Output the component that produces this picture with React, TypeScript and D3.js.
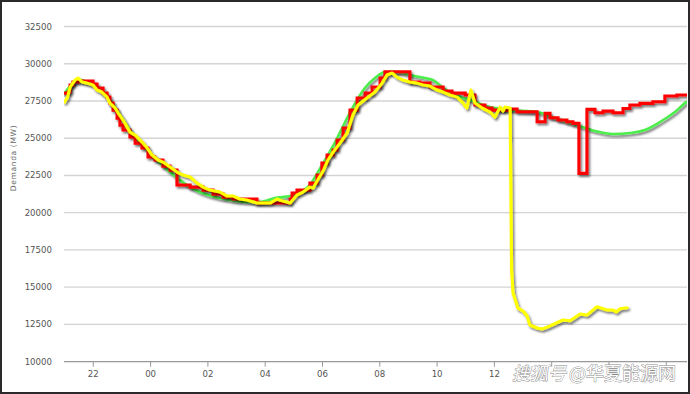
import React from "react";
import * as d3 from "d3";

// time = hours after 21:00
const yTicks = [10000, 12500, 15000, 17500, 20000, 22500, 25000, 27500, 30000, 32500];
const xTickHours = [1, 3, 5, 7, 9, 11, 13, 15, 17, 19, 21];
const xTickLabels = ["22", "00", "02", "04", "06", "08", "10", "12", "", "", ""];

const greenT = [0, 0.26, 0.54, 0.88, 1.23, 1.58, 1.93, 2.28, 2.63, 2.98, 3.33, 3.68, 4.03, 4.38, 4.72, 5.25, 5.77, 6.3, 6.82, 7.34, 7.87, 8.21, 8.56, 8.84, 9.09, 9.44, 9.79, 10.14, 10.48, 10.83, 11.18, 11.7, 12.05, 12.58, 12.86, 13.21, 13.63, 14.15, 14.85, 15.55, 16.49, 17.12, 17.88, 18.51, 19.14, 19.73, 20.25, 20.78, 21.3, 21.76, 22];
const greenV = [28030, 28640, 28905, 28700, 28370, 27560, 26560, 25550, 24670, 24010, 23330, 22730, 22190, 21720, 21390, 21050, 20850, 20720, 20720, 20990, 21120, 21390, 21860, 22730, 23540, 24740, 26090, 27360, 28370, 29040, 29440, 29440, 29240, 29040, 28905, 28370, 27900, 27560, 27090, 26890, 26760, 26350, 25880, 25480, 25280, 25350, 25550, 26090, 26760, 27500, 27650];

const redT = [0, 0.12, 0.19, 0.29, 0.47, 0.99, 1.13, 1.34, 1.48, 1.58, 1.69, 1.83, 1.93, 2.04, 2.28, 2.46, 2.7, 2.91, 3.15, 3.43, 3.68, 3.92, 4.38, 4.83, 5.18, 5.53, 5.88, 6.71, 7.87, 7.94, 8.11, 8.56, 8.81, 8.98, 9.16, 9.37, 9.51, 9.72, 9.96, 10.21, 10.49, 10.73, 11.01, 11.18, 12.05, 12.4, 12.75, 13.21, 13.52, 13.98, 14.32, 14.67, 14.92, 15.47, 15.79, 16.49, 16.77, 16.94, 17.22, 17.53, 17.74, 17.95, 18.23, 18.51, 18.79, 19.14, 19.49, 19.73, 20.08, 20.53, 20.95, 21.37, 22];
const redV = [28030, 28100, 28570, 28770, 28840, 28640, 28370, 28030, 27760, 27360, 26890, 26350, 25880, 25550, 25080, 24670, 24340, 23740, 23540, 23130, 22860, 21860, 21720, 21520, 21250, 21050, 20920, 20650, 20920, 21320, 21520, 21990, 22530, 23330, 23870, 24210, 24880, 25690, 26890, 27700, 28030, 28435, 29040, 29460, 28770, 28700, 28435, 28170, 28030, 27900, 27230, 27030, 26890, 26960, 26780, 26110, 26670, 26370, 26220, 26110, 26000, 22640, 26940, 26710, 26820, 26710, 27000, 27230, 27340, 27450, 27830, 27900, 27900];

const yellowT = [0, 0.1, 0.19, 0.36, 0.47, 0.61, 0.78, 0.99, 1.13, 1.3, 1.48, 1.58, 1.76, 1.87, 2.04, 2.28, 2.46, 2.7, 2.88, 3.05, 3.26, 3.43, 3.68, 3.92, 4.13, 4.38, 4.62, 4.83, 5.07, 5.42, 5.67, 5.88, 6.12, 6.36, 6.71, 6.92, 7.17, 7.41, 7.62, 7.87, 8.11, 8.32, 8.56, 8.67, 8.81, 9.02, 9.19, 9.37, 9.61, 9.86, 10.06, 10.24, 10.55, 10.83, 11.08, 11.25, 11.43, 11.6, 11.81, 12.05, 12.3, 12.51, 12.75, 13.0, 13.21, 13.45, 13.7, 13.91, 14.04, 14.18, 14.32, 14.57, 14.85, 15.02, 15.2, 15.3, 15.37, 15.55, 15.6, 15.65, 15.82, 16.0, 16.14, 16.24, 16.49, 16.66, 16.94, 17.39, 17.64, 17.99, 18.23, 18.58, 18.93, 19.14, 19.25, 19.39, 19.63];
const yellowV = [27430, 27760, 28435, 28905, 29040, 28770, 28700, 28570, 28235, 28100, 27760, 27360, 27030, 26690, 26220, 25410, 25210, 24740, 24340, 23870, 23540, 23400, 23070, 22730, 22530, 22400, 21990, 21720, 21520, 21390, 21120, 21120, 20920, 20850, 20650, 20650, 20650, 20920, 20780, 20650, 21190, 21390, 21720, 21650, 22130, 22800, 23540, 24070, 24670, 25350, 26560, 27230, 27700, 28100, 28700, 29240, 29375, 29105, 28905, 28770, 28700, 28570, 28500, 28235, 28100, 27900, 27760, 27360, 27030, 28235, 27360, 27030, 26760, 26420, 27090, 26820, 27090, 27030, 16150, 14610, 13600, 13400, 13070, 12460, 12260, 12190, 12400, 12800, 12750, 13200, 13130, 13690, 13470, 13470, 13340, 13560, 13620];

const W = 690;
const H = 394;
const plotLeft = 64;
const plotRight = 687;
const plotBottom = 361.7;

export default function App() {
  const x = d3.scaleLinear().domain([0, 22]).range([64.65, 694.95]);
  const y = d3.scaleLinear().domain([10000, 32500]).range([plotBottom, 26.5]);

  const green = greenT.map((t, i) => [t, greenV[i]] as [number, number]);
  const red = redT.map((t, i) => [t, redV[i]] as [number, number]);
  const yellow = yellowT.map((t, i) => [t, yellowV[i]] as [number, number]);

  const smooth = d3
    .line<[number, number]>()
    .x((d) => x(d[0]))
    .y((d) => y(d[1]))
    .curve(d3.curveMonotoneX);
  const step = d3
    .line<[number, number]>()
    .x((d) => x(d[0]))
    .y((d) => y(d[1]))
    .curve(d3.curveStepAfter);
  const jag = d3
    .line<[number, number]>()
    .x((d) => x(d[0]))
    .y((d) => y(d[1]));

  const font = "'DejaVu Sans', Verdana, sans-serif";

  return (
    <svg
      width={W}
      height={H}
      style={{ position: "absolute", left: 0, top: 0, background: "#fff" }}
    >
      <defs>
        <clipPath id="plot">
          <rect x={plotLeft} y={0} width={plotRight - plotLeft} height={plotBottom + 2} />
        </clipPath>
        <filter id="shadow" x="-10%" y="-10%" width="120%" height="130%">
          <feDropShadow dx="1.5" dy="2" stdDeviation="1" floodColor="#000" floodOpacity="0.55" />
        </filter>
      </defs>
      <rect x={0} y={0} width={W} height={H} fill="#fff" />

      {yTicks.map((v) => (
        <g key={v}>
          {v !== 10000 && (
            <line x1={plotLeft} x2={plotRight} y1={y(v)} y2={y(v)} stroke="#d4d4d4" strokeWidth={1.3} />
          )}
          <text
            x={52}
            y={y(v)}
            dy="0.35em"
            textAnchor="end"
            fontFamily={font}
            fontSize={8.6}
            fill="#555"
          >
            {v}
          </text>
        </g>
      ))}

      <line x1={plotLeft} x2={plotRight} y1={plotBottom} y2={plotBottom} stroke="#999" strokeWidth={1.3} />
      {xTickHours.map((t, i) => (
        <g key={t}>
          <line x1={x(t)} x2={x(t)} y1={plotBottom} y2={plotBottom + 5} stroke="#999" strokeWidth={1} />
          {xTickLabels[i] && (
            <text
              x={x(t)}
              y={376.5}
              textAnchor="middle"
              fontFamily={font}
              fontSize={8.6}
              fill="#555"
            >
              {xTickLabels[i]}
            </text>
          )}
        </g>
      ))}

      <text
        transform="translate(16,158) rotate(-90)"
        textAnchor="middle"
        fontFamily={font}
        fontSize={7.6}
        fill="#666"
        letterSpacing={0.6}
      >
        Demanda (MW)
      </text>

      <g clipPath="url(#plot)" fill="none" strokeLinejoin="round" strokeLinecap="round">
        <path d={smooth(green) || ""} stroke="#4cee4c" strokeWidth={2.6} filter="url(#shadow)" />
        <path d={step(red) || ""} stroke="#ff0000" strokeWidth={3.1} strokeLinejoin="miter" strokeLinecap="square" filter="url(#shadow)" />
        <path d={jag(yellow) || ""} stroke="#ffff00" strokeWidth={3.1} filter="url(#shadow)" />
      </g>

      <g fontFamily="'Noto Sans CJK SC', sans-serif" fontSize={18} fill="#fff" stroke="#8a8a8a" strokeWidth={0.9} paintOrder="stroke">
        <text x={512} y={380} fontStyle="italic">搜狐号</text>
        <text x={569} y={380}>@华夏能源网</text>
      </g>

      <rect x={1} y={1} width={W - 2} height={H - 2} fill="none" stroke="#2a2a2a" strokeWidth={2} />
    </svg>
  );
}
